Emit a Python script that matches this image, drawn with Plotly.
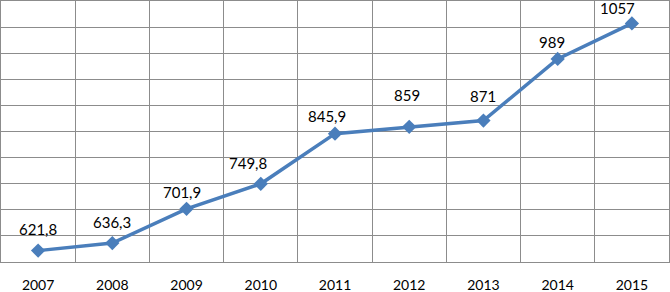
import plotly.graph_objects as go

years = ["2007", "2008", "2009", "2010", "2011", "2012", "2013", "2014", "2015"]
values = [621.8, 636.3, 701.9, 749.8, 845.9, 859, 871, 989, 1057]

# label nudges (pixels) relative to each point
label_dy = [22, 21, 17, 21, 18, 32, 25, 17, 15]
label_dx = [0, 0, -5, -13, -8, -2, 0, -6, -14]

xs = list(range(len(years)))
labels = [f"{v:g}".replace(".", ",") for v in values]

fig = go.Figure()
fig.add_trace(go.Scatter(
    x=xs, y=values, mode="lines+markers",
    line=dict(color="#4A7EBB", width=3.5),
    marker=dict(symbol="diamond", size=11, color="#4A7EBB"),
    cliponaxis=False, hoverinfo="skip",
))

for x, y, t, dy, dx in zip(xs, values, labels, label_dy, label_dx):
    fig.add_annotation(x=x, y=y, text=t, showarrow=False, yshift=dy, xshift=dx,
                       font=dict(family="Lato, Open Sans, sans-serif", size=15, color="#000000"))

grid = "#8C8C8C"
fig.update_layout(
    width=670, height=292,
    margin=dict(l=1, r=1, t=1, b=30),
    paper_bgcolor="white", plot_bgcolor="white",
    showlegend=False,
    xaxis=dict(
        range=[-0.5, len(years) - 0.5],
        tickvals=xs, ticktext=years, automargin=False,
        showgrid=False, zeroline=False,
        showline=True, linecolor=grid, linewidth=1, mirror=True,
        ticks="", ticklabelstandoff=10,
        tickfont=dict(family="Lato, Open Sans, sans-serif", size=14, color="#000000"),
        minor=dict(tickvals=[i - 0.5 for i in range(len(years) + 1)], showgrid=True,
                   gridcolor=grid, gridwidth=1, ticks=""),
    ),
    yaxis=dict(
        range=[600, 1100], dtick=50, tick0=600, automargin=False,
        showticklabels=False, showgrid=True, gridcolor=grid, gridwidth=1,
        zeroline=False, showline=True, linecolor=grid, linewidth=1, mirror=True,
        ticks="",
    ),
)

fig.write_html("out.html", config={"displayModeBar": False},
               post_script="document.body.style.margin='0';document.body.style.overflow='hidden';")
